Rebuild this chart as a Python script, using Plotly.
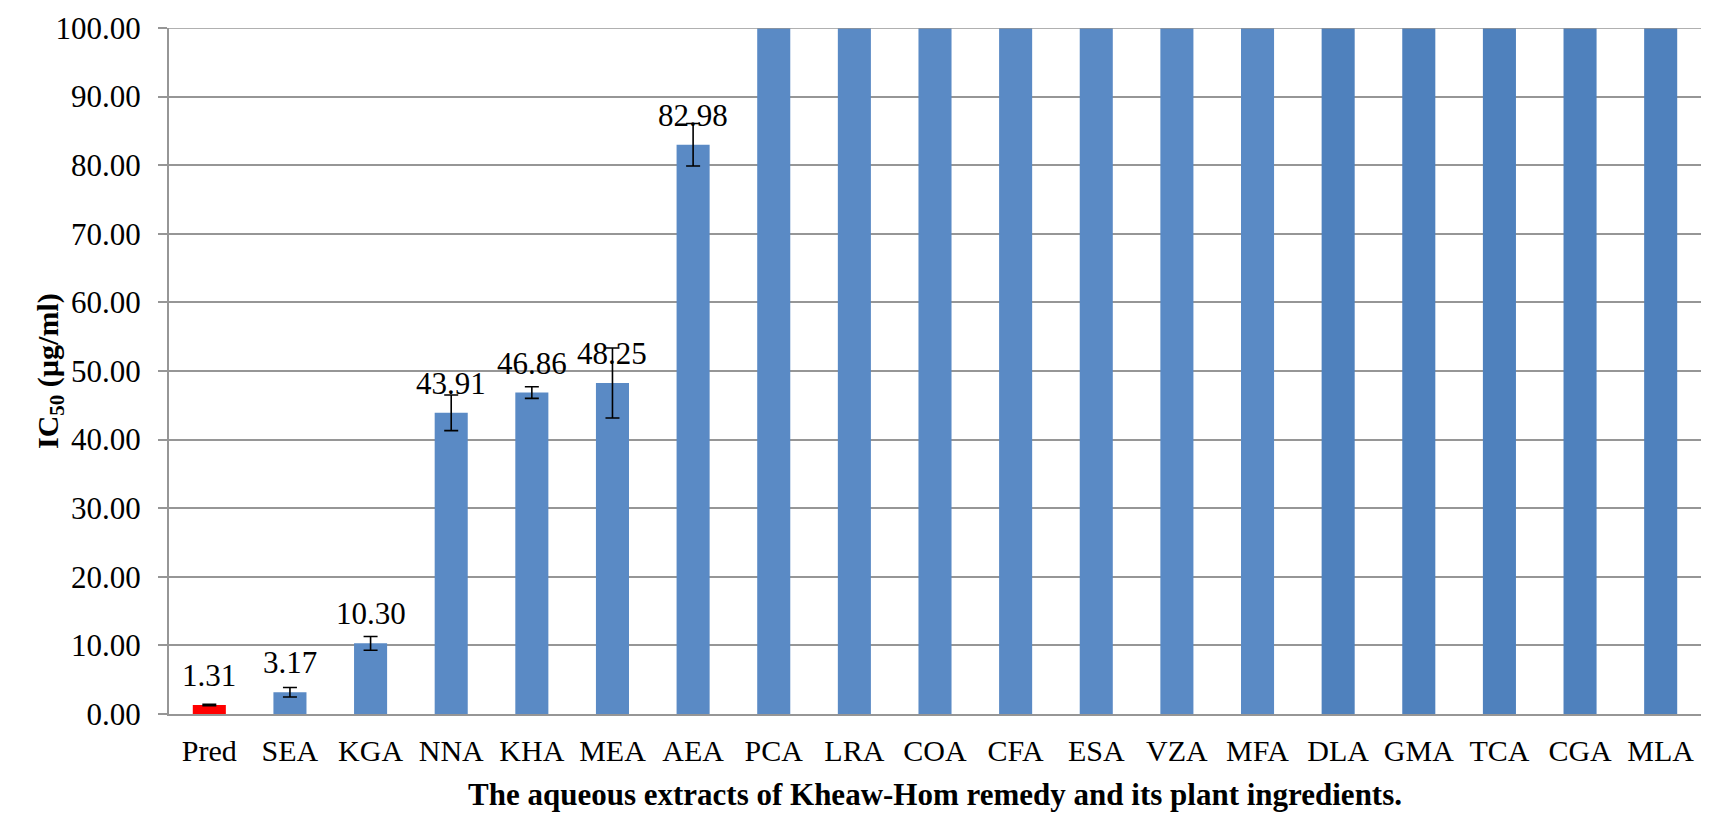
import plotly.graph_objects as go

categories = ["Pred", "SEA", "KGA", "NNA", "KHA", "MEA", "AEA", "PCA", "LRA", "COA",
              "CFA", "ESA", "VZA", "MFA", "DLA", "GMA", "TCA", "CGA", "MLA"]
ic50 = [1.31, 3.17, 10.30, 43.91, 46.86, 48.25, 82.98, 100, 100, 100,
        100, 100, 100, 100, 100, 100, 100, 100, 100]
sd = [0.1, 0.7, 1.0, 2.6, 0.85, 5.1, 3.1]
labels = ["1.31", "3.17", "10.30", "43.91", "46.86", "48.25", "82.98"]

colors = ["#FF0000"] + ["#5A8AC5"] * 13 + ["#4F81BD"] * 5

FONT = "Liberation Serif"
n = len(sd)

fig = go.Figure()
fig.add_trace(go.Bar(
    x=categories[:n], y=ic50[:n],
    marker=dict(color=colors[:n], line=dict(width=0)),
    width=0.41,
    error_y=dict(type="data", array=sd, visible=True, color="black",
                 thickness=1.6, width=7),
    showlegend=False,
))
fig.add_trace(go.Bar(
    x=categories[n:], y=ic50[n:],
    marker=dict(color=colors[n:], line=dict(width=0)),
    width=0.41,
    showlegend=False,
))

for cat, val, lab in zip(categories, ic50, labels):
    fig.add_annotation(x=cat, y=val, text=lab, showarrow=False,
                       yanchor="bottom", yshift=10,
                       font=dict(family=FONT, size=31, color="black"))

fig.add_annotation(
    text="<b>IC<sub>50</sub> (µg/ml)</b>", textangle=-90,
    xref="paper", yref="paper", x=0, y=0.5, xshift=-140,
    showarrow=False, font=dict(family=FONT, size=30, color="black"))

# top gridline drawn over the bars, as in the reference
fig.add_shape(type="line", xref="paper", yref="y", x0=0, x1=1, y0=100, y1=100,
              line=dict(color="#969696", width=1.6), layer="above")

fig.update_layout(
    width=1712, height=817,
    margin=dict(l=169, r=11, t=23, b=101),
    paper_bgcolor="white", plot_bgcolor="white",
    barmode="overlay",
    font=dict(family=FONT, color="black"),
    xaxis=dict(
        categoryorder="array", categoryarray=categories,
        showline=True, linecolor="#969696", linewidth=2,
        ticks="", tickfont=dict(family=FONT, size=30, color="black"),
        ticklabelstandoff=9,
        title=dict(text="<b>The aqueous extracts of Kheaw-Hom remedy and its plant ingredients.</b>",
                   font=dict(family=FONT, size=31, color="black"), standoff=17),
    ),
    yaxis=dict(
        range=[0, 100], dtick=10, tickformat=".2f",
        showgrid=True, gridcolor="#969696", gridwidth=1.6,
        showline=True, linecolor="#969696", linewidth=2,
        ticks="outside", ticklen=9, tickcolor="#969696", tickwidth=1.6,
        tickfont=dict(family=FONT, size=31, color="black"),
        ticklabelstandoff=11,
        zeroline=False,
    ),
)

fig.write_html("out.html")
